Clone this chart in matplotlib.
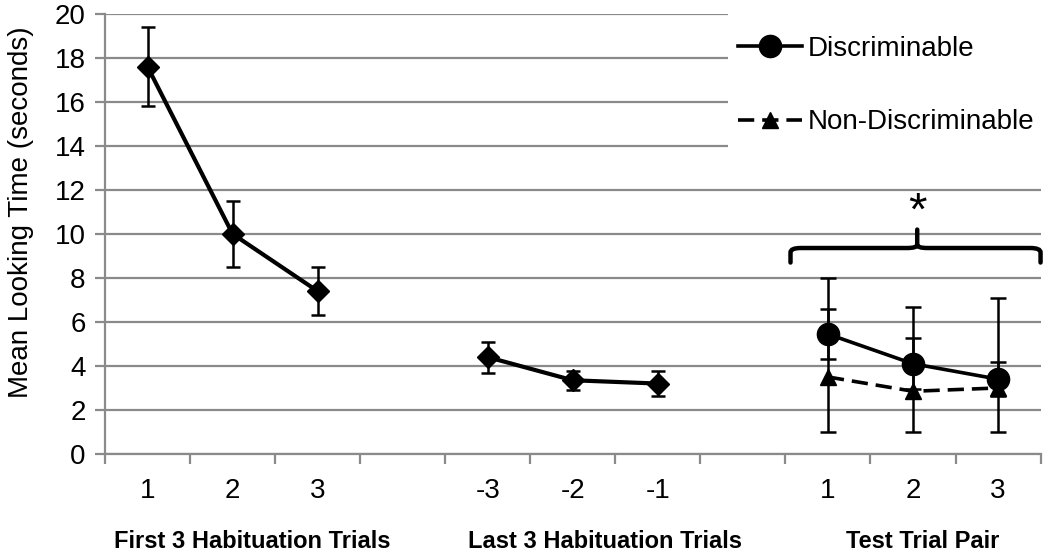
import matplotlib
matplotlib.use("Agg")
import matplotlib.pyplot as plt
from matplotlib.lines import Line2D
from matplotlib.path import Path
from matplotlib.patches import PathPatch, Rectangle
import numpy as np

plt.rcParams['font.family'] = ['Liberation Sans', 'DejaVu Sans']

# ---- data ----
first_labels = ["1", "2", "3"]
last_labels = ["-3", "-2", "-1"]
test_labels = ["1", "2", "3"]
group_names = ["First 3 Habituation Trials", "Last 3 Habituation Trials", "Test Trial Pair"]

first_hab = [17.6, 10.0, 7.4]
first_err = [1.8, 1.5, 1.1]
last_hab = [4.4, 3.35, 3.2]
last_err = [0.7, 0.43, 0.56]
test_disc = [5.45, 4.1, 3.4]
test_disc_err = [1.15, 1.15, 0.76]
test_nondisc = [3.5, 2.85, 3.0]
nondisc_err_low = [2.5, 1.85, 2.0]
nondisc_err_high = [4.5, 3.85, 4.1]

# positions (slots with gaps between groups)
pos_first = [0, 1, 2]
pos_last = [4, 5, 6]
pos_test = [8, 9, 10]

W, H = 1050, 556
fig = plt.figure(figsize=(W / 100, H / 100), dpi=100)
ax = fig.add_axes([0.1, 0.1835, 0.891, 0.7915])

grid_c = '#8a8a8a'
ax.set_xlim(-0.5, 10.5)
ax.set_ylim(0, 20)
ax.set_yticks(np.arange(0, 21, 2))
ax.yaxis.grid(True, color=grid_c, lw=1.6, zorder=0)
ax.set_axisbelow(True)
for s in ['top', 'right']:
    ax.spines[s].set_visible(False)
for s in ['left', 'bottom']:
    ax.spines[s].set_color(grid_c)
    ax.spines[s].set_linewidth(1.6)

ax.set_xticks(np.arange(-0.5, 10.6, 1))
ax.set_xticklabels([])
ax.set_xticks(pos_first + pos_last + pos_test, minor=True)
ax.set_xticklabels(first_labels + last_labels + test_labels, minor=True)
ax.tick_params(axis='x', which='major', length=7, width=1.6, color=grid_c, direction='out')
ax.tick_params(axis='x', which='minor', length=0, pad=17, labelsize=20)
ax.tick_params(axis='y', length=7, width=1.6, color=grid_c, labelsize=20, pad=7)

fig.text(21 / W, 1 - 212 / H, "Mean Looking Time (seconds)", fontsize=20, rotation=90,
         ha='center', va='center')

# habituation series
for pos, vals, errs in [(pos_first, first_hab, first_err), (pos_last, last_hab, last_err)]:
    ax.errorbar(pos, vals, yerr=errs, color='black', lw=3, marker='D', markersize=11,
                ecolor='black', elinewidth=1.8, capsize=5, capthick=1.8, zorder=3)

# test series
ax.errorbar(pos_test, test_nondisc, yerr=[nondisc_err_low, nondisc_err_high], color='black',
            lw=2.6, ls=(0, (4.5, 2.2)), marker='^', markersize=12, ecolor='black',
            elinewidth=1.8, capsize=6, capthick=1.8, zorder=3)
ax.errorbar(pos_test, test_disc, yerr=test_disc_err, color='black', lw=2.6, marker='o',
            markersize=16, ecolor='black', elinewidth=1.8, capsize=6, capthick=1.8, zorder=4)

# group labels (slightly right of group centre, as in the original)
for name, pos, off in zip(group_names, [pos_first, pos_last, pos_test], [0.23, 0.38, 0.12]):
    ax.text(np.mean(pos) + off, -4.0, name, ha='center', va='center', fontsize=17,
            fontweight='bold', clip_on=False)

# brace
x0, xm, x1 = 7.56, 9.05, 10.5
yb, ye, yt = 9.36, 8.7, 10.2
r = 0.12
verts = [(x0, ye), (x0, yb - 0.2), (x0, yb), (x0 + r, yb),
         (xm - r, yb), (xm, yb), (xm, yb + 0.15), (xm, yt)]
codes = [Path.MOVETO, Path.LINETO, Path.CURVE3, Path.CURVE3,
         Path.LINETO, Path.CURVE3, Path.CURVE3, Path.LINETO]
ax.add_patch(PathPatch(Path(verts, codes), fill=False, lw=3.2, ec='black', capstyle='round', zorder=5, clip_on=False))
verts2 = [(x1, ye), (x1, yb - 0.2), (x1, yb), (x1 - r, yb),
          (xm + r, yb), (xm, yb), (xm, yb + 0.15)]
codes2 = [Path.MOVETO, Path.LINETO, Path.CURVE3, Path.CURVE3,
          Path.LINETO, Path.CURVE3, Path.CURVE3]
ax.add_patch(PathPatch(Path(verts2, codes2), fill=False, lw=3.2, ec='black', capstyle='round', zorder=5, clip_on=False))
ax.text(xm, 10.95, "*", ha='center', va='center', fontsize=34, zorder=5)

# legend background (covers gridlines)
fig.patches.append(Rectangle((728 / W, 1 - 162 / H), 1 - 728 / W, 162 / H,
                             transform=fig.transFigure, facecolor='white', edgecolor='none',
                             zorder=5))
h1 = Line2D([], [], color='black', lw=2.6, marker='o', markersize=16)
h2 = Line2D([], [], color='black', lw=2.6, ls=(0, (4.5, 2.2)), marker='^', markersize=12)
leg = fig.legend([h1, h2], ["Discriminable", "Non-Discriminable"], loc='upper left',
                 bbox_to_anchor=(738 / W, 1 - 36 / H), bbox_transform=fig.transFigure,
                 fontsize=20, frameon=False,
                 handlelength=2.3, handletextpad=0.2, labelspacing=1.7, borderpad=0,
                 borderaxespad=0)
leg.set_zorder(7)

fig.savefig("out.png", dpi=100)
